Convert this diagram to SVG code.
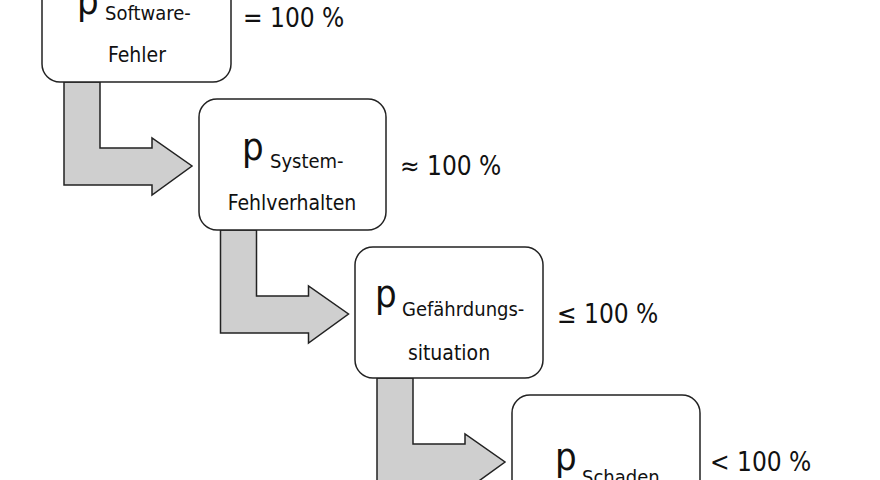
<svg xmlns="http://www.w3.org/2000/svg" width="880" height="480" viewBox="0 0 880 480">
<style>
.box{fill:#fff;stroke:#222;stroke-width:1.5}
.arr{fill:#cfcfcf;stroke:#222;stroke-width:1.5}
text{font-family:"DejaVu Sans",sans-serif;font-stretch:condensed;fill:#111;font-weight:500}
.p{font-size:38px}
.s{font-size:20px}
.m{font-size:21px;text-anchor:middle}
.l{font-size:26px}
</style>
<rect width="880" height="480" fill="#fff"/>
<g id="connectors">
<path id="a1" class="arr" d="M64 82V185H152V195L192 166L152 138V148H100V82Z"/>
<path id="a2" class="arr" transform="translate(156.5,148)" d="M64 82V185H152V195L192 166L152 138V148H100V82Z"/>
<path id="a3" class="arr" transform="translate(313,296)" d="M64 82V185H152V195L192 166L152 138V148H100V82Z"/>
</g>
<g id="n1"><rect class="box" x="42" y="-50" width="189" height="132" rx="18"/>
<text class="p" x="77" y="14">p</text><text class="s" x="105" y="20">Software-</text><text class="m" x="137" y="62">Fehler</text>
<text class="l" x="243" y="27">= 100 %</text></g>
<g id="n2"><rect class="box" x="199" y="99" width="187" height="131" rx="18"/>
<text class="p" x="242" y="160">p</text><text class="s" x="270" y="168">System-</text><text class="m" x="292" y="210">Fehlverhalten</text>
<text class="l" x="400" y="175">≈ 100 %</text></g>
<g id="n3"><rect class="box" x="355" y="247" width="188" height="131" rx="18"/>
<text class="p" x="375" y="307">p</text><text class="s" x="402" y="316">Gefährdungs-</text><text class="m" x="449" y="360">situation</text>
<text class="l" x="557" y="323">≤ 100 %</text></g>
<g id="n4"><rect class="box" x="512" y="395" width="188" height="131" rx="18"/>
<text class="p" x="555" y="470">p</text><text class="s" x="582" y="484">Schaden</text>
<text class="l" x="710" y="471">&lt; 100 %</text></g>
</svg>
